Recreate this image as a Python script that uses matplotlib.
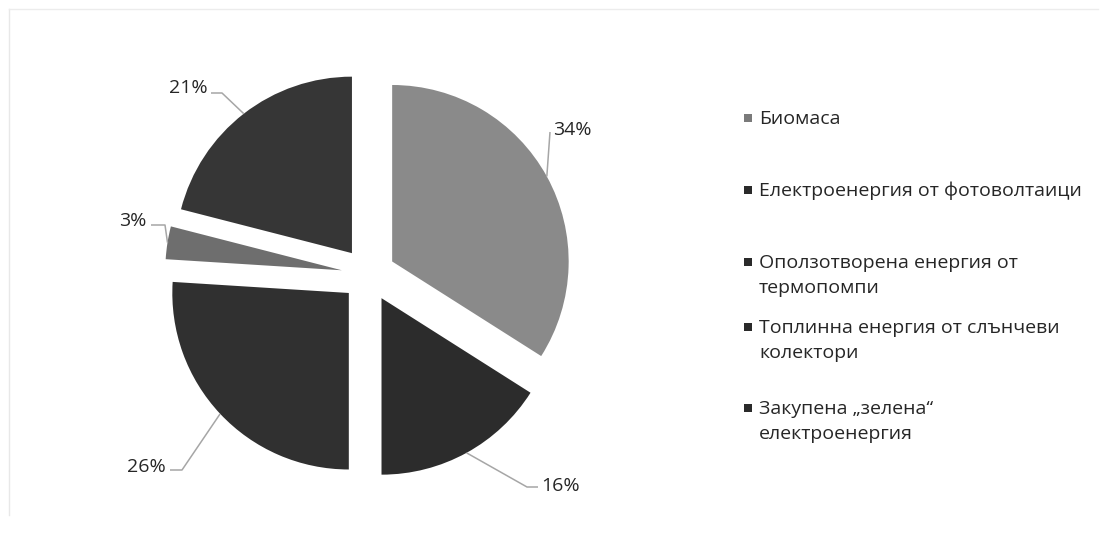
import matplotlib.pyplot as plt
import numpy as np

plt.rcParams['font.family'] = ['Open Sans', 'DejaVu Sans']

# data
categories = ["Биомаса",
              "Електроенергия от фотоволтаици",
              "Оползотворена енергия от\nтермопомпи",
              "Топлинна енергия от слънчеви\nколектори",
              "Закупена „зелена“\nелектроенергия"]
shares = [34, 16, 26, 3, 21]
pct_labels = ["34%", "16%", "26%", "3%", "21%"]
slice_colors = ["#8a8a8a", "#2c2c2c", "#303030", "#6e6e6e", "#363636"]
marker_colors = ["#7a7a7a", "#2a2a2a", "#2a2a2a", "#2a2a2a", "#2a2a2a"]

W, H = 1103, 535
fig = plt.figure(figsize=(W / 100, H / 100), dpi=100)
ax = fig.add_axes([0, 0, 1, 1])

# pie in pixel coords (y measured from bottom); explode is absolute here
cx, cy, R = 368.5, H - 274.5, 176.5
wedges, _ = ax.pie(shares, colors=slice_colors, startangle=90, counterclock=False,
                   explode=[27] * len(shares), radius=R, center=(cx, cy),
                   wedgeprops=dict(linewidth=0))
ax.set_xlim(0, W)
ax.set_ylim(0, H)
ax.set_aspect('equal')
ax.axis('off')

# label placement: text pos, alignment, elbow, stub end (pixel, from top)
label_pos = [(553, 130), (541, 486), (166, 467), (146, 221), (208, 88)]
label_ha = ["left", "left", "right", "right", "right"]
elbows = [(550, 132), (527, 487), (182, 470), (165, 225), (222, 93)]
stubs = [(550, 132), (538, 487), (170, 470), (151, 225), (211, 93)]

for w, txt, (tx, ty), ha, (ex, ey), (sx, sy) in zip(wedges, pct_labels, label_pos,
                                                      label_ha, elbows, stubs):
    mid = np.deg2rad((w.theta1 + w.theta2) / 2)
    px = w.center[0] + w.r * np.cos(mid)
    py = w.center[1] + w.r * np.sin(mid)
    ax.plot([px, ex, sx], [py, H - ey, H - sy], color="#a6a6a6", lw=1.1,
            solid_capstyle='butt')
    ax.text(tx, H - ty, txt, ha=ha, va='center', fontsize=14, color="#262626")

# legend drawn by hand to keep the uneven spacing
leg_y = [118, 190, 262, 327, 408]
for y, name, mc in zip(leg_y, categories, marker_colors):
    ax.scatter([748], [H - y], marker='s', s=30, color=mc, linewidths=0)
    for i, line in enumerate(name.split("\n")):
        ax.text(759, H - (y + 6 + 25 * i), line, ha='left', va='baseline',
                fontsize=14, color="#262626")

# faint chart border
ax.plot([9, 9], [H - 9, 20], color="#e8e8e8", lw=1)
ax.plot([9, W - 5], [H - 9, H - 9], color="#ececec", lw=1)

fig.savefig("out.png", dpi=100, facecolor="white")
